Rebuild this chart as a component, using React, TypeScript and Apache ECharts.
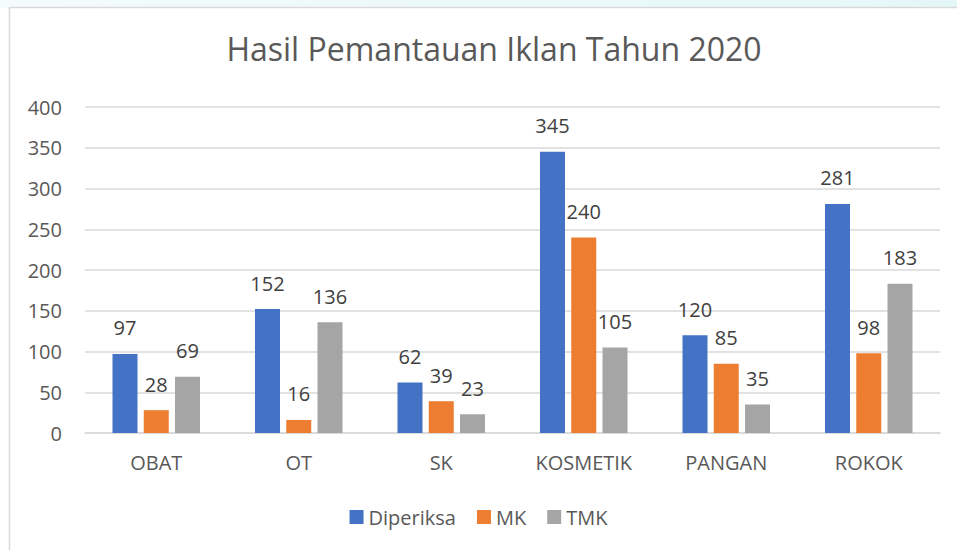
import React, { useEffect, useRef } from "react";
import * as echarts from "echarts";

const categories = ["OBAT", "OT", "SK", "KOSMETIK", "PANGAN", "ROKOK"];
const diperiksa = [97, 152, 62, 345, 120, 281];
const mk = [28, 16, 39, 240, 85, 98];
const tmk = [69, 136, 23, 105, 35, 183];
const seriesNames = ["Diperiksa", "MK", "TMK"];
const colors = ["#4472C4", "#ED7D31", "#A5A5A5"];

export default function App() {
  const ref = useRef<HTMLDivElement>(null);
  useEffect(() => {
    if (!ref.current) return;
    const chart = echarts.init(ref.current, null, { renderer: "svg" });
    const font = "'Open Sans', 'Noto Sans', sans-serif";
    const dataSets = [diperiksa, mk, tmk];
    chart.setOption({
      animation: false,
      backgroundColor: "#ffffff",
      textStyle: { fontFamily: font },
      graphic: [
        {
          type: "rect",
          shape: { x: 0, y: 0, width: 957, height: 8 },
          style: {
            fill: new echarts.graphic.LinearGradient(0, 0, 1, 0, [
              { offset: 0, color: "#f4fbfb" },
              { offset: 1, color: "#e4f7f8" },
            ]),
          },
          z: -10,
        },
        {
          type: "rect",
          shape: { x: 9.5, y: 7.5, width: 960, height: 560 },
          style: { fill: "#ffffff", stroke: "#d9d9d9", lineWidth: 1.5 },
          z: -9,
        },
      ],
      title: {
        text: "Hasil Pemantauan Iklan Tahun 2020",
        left: 489,
        textAlign: "center",
        top: 27,
        textStyle: { fontFamily: font, fontSize: 32, fontWeight: "normal", color: "#595959" },
      },
      legend: {
        data: seriesNames,
        bottom: 18,
        left: "center",
        itemWidth: 14,
        itemHeight: 14,
        itemGap: 21,
        icon: "rect",
        textStyle: { fontFamily: font, fontSize: 20, color: "#595959" },
      },
      grid: { left: 85, right: 17, top: 107, bottom: 117, containLabel: false },
      xAxis: {
        type: "category",
        data: categories,
        axisLine: { lineStyle: { color: "#d9d9d9", width: 1.5 } },
        axisTick: { show: false },
        axisLabel: { fontFamily: font, fontSize: 20, color: "#595959", margin: 19 },
      },
      yAxis: {
        type: "value",
        min: 0,
        max: 400,
        interval: 50,
        axisLine: { show: false },
        axisTick: { show: false },
        splitLine: { lineStyle: { color: "#d9d9d9", width: 1.5 } },
        axisLabel: { fontFamily: font, fontSize: 20, color: "#595959", margin: 23 },
      },
      series: seriesNames.map((name, i) => ({
        name,
        type: "bar",
        data: dataSets[i],
        barWidth: 25,
        barGap: "25%",
        itemStyle: { color: colors[i] },
        label: {
          show: true,
          position: "top",
          distance: 16,
          fontFamily: font,
          fontSize: 20,
          color: "#404040",
        },
      })),
    });
    return () => chart.dispose();
  }, []);
  return (
    <div
      ref={ref}
      style={{ position: "fixed", left: 0, top: 0, width: 957, height: 550 }}
    />
  );
}
